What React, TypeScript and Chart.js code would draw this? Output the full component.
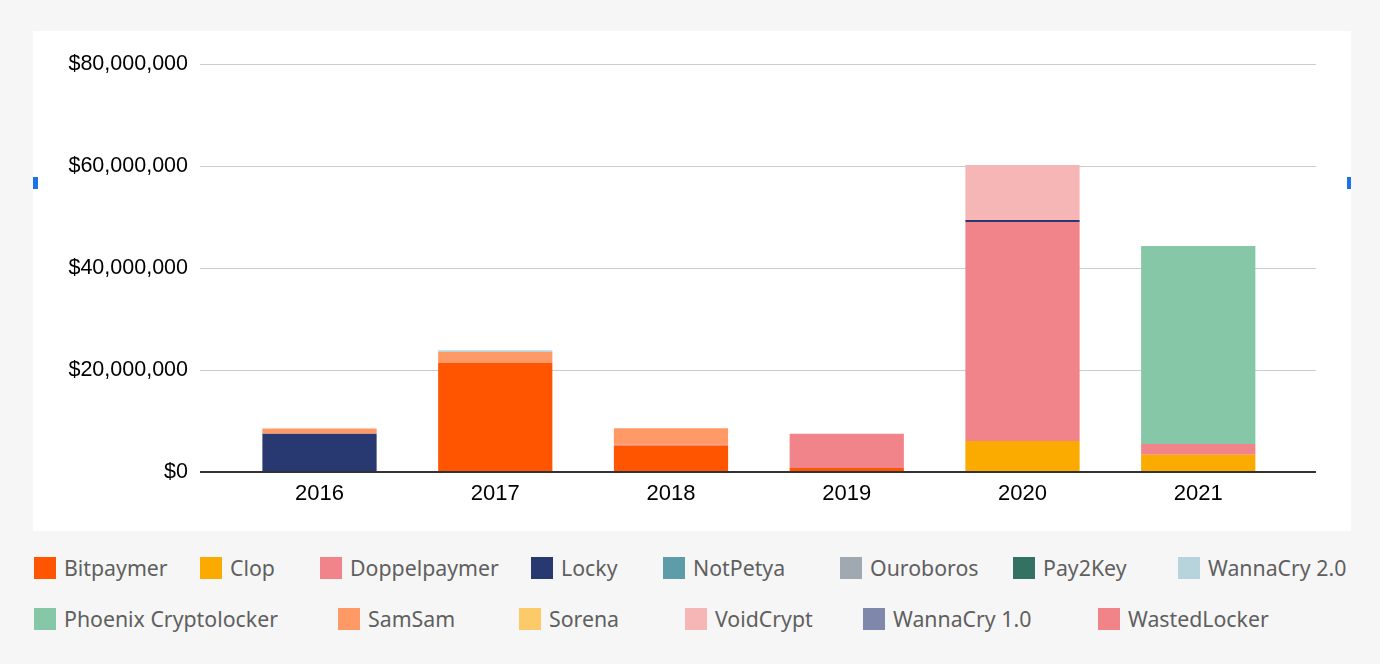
import { useEffect, useRef } from 'react';
import { Chart, registerables } from 'chart.js';

Chart.register(...registerables);

// ---- data ----
const years = ['2016', '2017', '2018', '2019', '2020', '2021'];

const seriesNames = [
  'Bitpaymer', 'Clop', 'Doppelpaymer', 'Locky', 'NotPetya', 'Ouroboros', 'Pay2Key', 'WannaCry 2.0',
  'Phoenix Cryptolocker', 'SamSam', 'Sorena', 'VoidCrypt', 'WannaCry 1.0', 'WastedLocker',
];
const seriesColors = [
  '#ff5500', '#fbaa00', '#f0848a', '#283971', '#5e9caa', '#a0a8b2', '#337163', '#b7d4dc',
  '#85c7a7', '#ff9966', '#fdca6a', '#f7b6b6', '#7f88ab', '#f08489',
];

const bitpaymer = [0, 21400000, 5200000, 800000, 0, 0];
const clop = [0, 0, 0, 0, 6100000, 3400000];
const doppelpaymer = [0, 0, 150000, 6700000, 42900000, 2100000];
const locky = [7500000, 0, 0, 0, 400000, 0];
const notPetya = [0, 0, 0, 0, 0, 0];
const ouroboros = [0, 0, 0, 0, 0, 0];
const pay2Key = [0, 0, 0, 0, 0, 0];
const wannaCry2 = [0, 300000, 0, 0, 0, 0];
const phoenix = [0, 0, 0, 0, 0, 38800000];
const samSam = [1050000, 2150000, 3250000, 0, 0, 0];
const sorena = [0, 0, 0, 0, 0, 0];
const voidCrypt = [0, 0, 0, 0, 10800000, 0];
const wannaCry1 = [0, 0, 0, 0, 0, 0];
const wastedLocker = [0, 0, 0, 0, 0, 0];

const seriesValues = [
  bitpaymer, clop, doppelpaymer, locky, notPetya, ouroboros, pay2Key, wannaCry2,
  phoenix, samSam, sorena, voidCrypt, wannaCry1, wastedLocker,
];

const yMax = 80000000;
const yStep = 20000000;

// ---- layout (positions of legend squares) ----
const legendRows = [
  { top: 557, items: [0, 1, 2, 3, 4, 5, 6, 7], xs: [34, 200, 320, 531, 663, 840, 1013, 1178] },
  { top: 608, items: [8, 9, 10, 11, 12, 13], xs: [34, 338, 519, 685, 863, 1098] },
];

const axisFont = "'Liberation Sans', Arial, Helvetica, sans-serif";

export default function App() {
  const ref = useRef<HTMLCanvasElement>(null);

  useEffect(() => {
    document.body.style.margin = '0';
    document.body.style.background = '#f6f6f6';
    const canvas = ref.current;
    if (!canvas) return;
    const chart = new Chart(canvas, {
      type: 'bar',
      data: {
        datasets: seriesNames.map((name, i) => ({
          label: name,
          data: seriesValues[i].map((v, j) => ({ x: j, y: v })),
          backgroundColor: seriesColors[i],
          borderWidth: 0,
          order: name === 'WannaCry 2.0' ? 1 : 0,
          barPercentage: 0.65,
          categoryPercentage: 1,
        })),
      },
      options: {
        animation: false,
        responsive: false,
        maintainAspectRatio: false,
        layout: { padding: { top: 33, right: 35, bottom: 0, left: 0 } },
        plugins: { legend: { display: false }, tooltip: { enabled: false } },
        scales: {
          x: {
            type: 'linear',
            offset: false,
            stacked: true,
            min: -0.68,
            max: 5.67,
            grid: { display: false, offset: false },
            border: { display: false },
            ticks: {
              stepSize: 1,
              includeBounds: false,
              autoSkip: false,
              maxRotation: 0,
              padding: 1,
              color: '#000',
              font: { family: axisFont, size: 22 },
              callback: (v: any) => (Number.isInteger(Number(v)) ? years[Number(v)] ?? '' : ''),
            },
            afterFit: (s: any) => { s.height = 59; },
          },
          y: {
            stacked: true,
            min: 0,
            max: yMax,
            grid: {
              color: (ctx: any) => (ctx.tick && ctx.tick.value === 0 ? '#333333' : '#cccccc'),
              lineWidth: (ctx: any) => (ctx.tick && ctx.tick.value === 0 ? 2 : 1),
              drawTicks: false,
            },
            border: { display: false },
            ticks: {
              stepSize: yStep,
              padding: 12,
              color: '#000',
              font: { family: axisFont, size: 21.5 },
              callback: (v: any) => '$' + Number(v).toLocaleString('en-US'),
            },
            afterFit: (s: any) => { s.width = 167; },
          },
        },
      },
    } as any);
    return () => chart.destroy();
  }, []);

  return (
    <div style={{ position: 'relative', width: 1380, height: 664, background: '#f6f6f6', overflow: 'hidden' }}>
      <div style={{ position: 'absolute', left: 33, top: 31, width: 1318, height: 500, background: '#ffffff' }}>
        <canvas ref={ref} width={1318} height={500} style={{ display: 'block', width: 1318, height: 500 }} />
      </div>
      <div style={{ position: 'absolute', left: 33, top: 177, width: 5, height: 12, background: '#1a73e8' }} />
      <div style={{ position: 'absolute', left: 1347, top: 177, width: 4, height: 12, background: '#1a73e8' }} />
      {legendRows.map((row, r) =>
        row.items.map((idx, k) => (
          <div
            key={`${r}-${k}`}
            style={{
              position: 'absolute',
              left: row.xs[k],
              top: row.top,
              height: 22,
              display: 'flex',
              alignItems: 'center',
              whiteSpace: 'nowrap',
            }}
          >
            <span style={{ display: 'inline-block', width: 22, height: 22, background: seriesColors[idx] }} />
            <span
              style={{
                marginLeft: 8,
                fontFamily: "'Noto Sans', 'Open Sans', sans-serif",
                fontSize: 21.3,
                color: '#5f5f5f',
                lineHeight: '22px',
              }}
            >
              {seriesNames[idx]}
            </span>
          </div>
        ))
      )}
    </div>
  );
}
